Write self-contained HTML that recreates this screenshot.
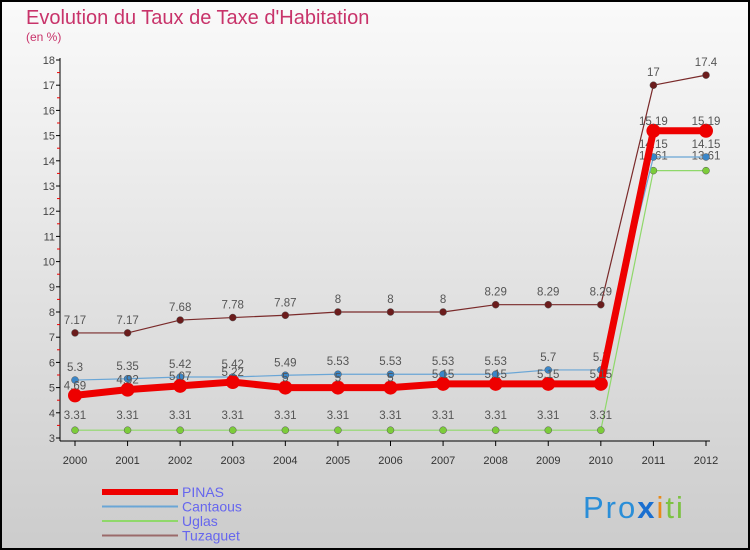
<!DOCTYPE html>
<html><head><meta charset="utf-8"><style>
body{margin:0;width:750px;height:550px;overflow:hidden;font-family:"Liberation Sans",sans-serif}
#c{position:absolute;left:0;top:0}
</style></head><body>
<svg id="c" width="750" height="550" xmlns="http://www.w3.org/2000/svg">
<defs><linearGradient id="bg" x1="0" y1="0" x2="0" y2="1"><stop offset="0" stop-color="#fafafa"/><stop offset="1" stop-color="#cccccc"/></linearGradient></defs>
<rect x="1" y="1" width="748" height="548" fill="url(#bg)" stroke="#000" stroke-width="2"/>
<text x="26" y="24" font-size="20" fill="#c8336a">Evolution du Taux de Taxe d'Habitation</text>
<text x="26" y="41" font-size="12" fill="#c8336a">(en %)</text>
<g id="axes"></g><g id="series"></g><g id="legend"></g>
<text x="583" y="518" font-size="31" letter-spacing="2" fill="#2a8ed8">Pro<tspan fill="#1a6fd0" font-weight="bold">x</tspan><tspan fill="#e88a1a">i</tspan><tspan fill="#7cc242">ti</tspan></text>
</svg>
<script>
const years=[2000,2001,2002,2003,2004,2005,2006,2007,2008,2009,2010,2011,2012];
const yTicks=[3,4,5,6,7,8,9,10,11,12,13,14,15,16,17,18];
const tuzaguet=[7.17,7.17,7.68,7.78,7.87,8,8,8,8.29,8.29,8.29,17,17.4];
const uglas=[3.31,3.31,3.31,3.31,3.31,3.31,3.31,3.31,3.31,3.31,3.31,13.61,13.61];
const cantaous=[5.3,5.35,5.42,5.42,5.49,5.53,5.53,5.53,5.53,5.7,5.7,14.15,14.15];
const pinas=[4.69,4.92,5.07,5.22,5,5,5,5.15,5.15,5.15,5.15,15.19,15.19];
const NS="http://www.w3.org/2000/svg";
function X(i){return 75+i*(706-75)/(years.length-1);}
function Y(v){return 438-(v-3)*(438-60)/15;}
function mk(t,a,p){const e=document.createElementNS(NS,t);for(const k in a)e.setAttribute(k,a[k]);p.appendChild(e);return e;}
const ax=document.getElementById('axes');
let l=mk('line',{x1:60,y1:58,x2:60,y2:441,stroke:'#000'},ax);

l=mk('line',{x1:60,y1:441,x2:710,y2:441,stroke:'#000'},ax);

yTicks.forEach(v=>{
 mk('line',{x1:56,y1:Y(v),x2:60,y2:Y(v),stroke:'#000'},ax);
 if(v<18)mk('line',{x1:57,y1:Y(v+0.5),x2:60,y2:Y(v+0.5),stroke:'#e00'},ax);
 const t=mk('text',{x:55,y:Y(v)+4,'font-size':11,'text-anchor':'end',fill:'#444'},ax);t.textContent=v;
 
});
years.forEach((y,i)=>{
 mk('line',{x1:X(i),y1:441,x2:X(i),y2:446,stroke:'#000'},ax);
 const t=mk('text',{x:X(i),y:464,'font-size':11,'text-anchor':'middle',fill:'#333'},ax);t.textContent=y;
 
});
const sg=document.getElementById('series');
function series(name,vals,col,w,r,dot,dy){
 const g=mk('g',{},sg);
 
 mk('polyline',{points:vals.map((v,i)=>X(i)+','+Y(v)).join(' '),fill:'none',stroke:col,'stroke-width':w,'stroke-linejoin':'round'},g);
 vals.forEach((v,i)=>{
  const c=mk('circle',{cx:X(i),cy:Y(v),r:r,fill:dot,stroke:'#555','stroke-width':r>6?0:0.5},g);
  
  const t=mk('text',{x:X(i),y:Y(v)+dy,'font-size':11.5,'text-anchor':'middle',fill:'#555'},g);t.textContent=String(v);
  
 });
}
series('tuzaguet',tuzaguet,'#7a2a2a',1.2,3.5,'#6b1c1c',-9);
series('uglas',uglas,'#8fd86a',1.2,3.5,'#7ccc3a',-11);
series('cantaous',cantaous,'#6aa6d6',1.2,3.5,'#3a86c8',-9);
series('pinas',pinas,'#ee0000',7,7,'#ee0000',-6);
const lg=document.getElementById('legend');
const items=[['PINAS','#ee0000',6],['Cantaous','#6aa6d6',2],['Uglas','#8fd86a',2],['Tuzaguet','#9a6a6a',2]];
items.forEach((it,i)=>{
 const y=492+i*14.5;
 const g=mk('g',{},lg);
 mk('line',{x1:102,y1:y,x2:178,y2:y,stroke:it[1],'stroke-width':it[2]},g);
 const t=mk('text',{x:182,y:y+5,'font-size':14,fill:'#6666ee'},g);t.textContent=it[0];
});
</script>
</body></html>
